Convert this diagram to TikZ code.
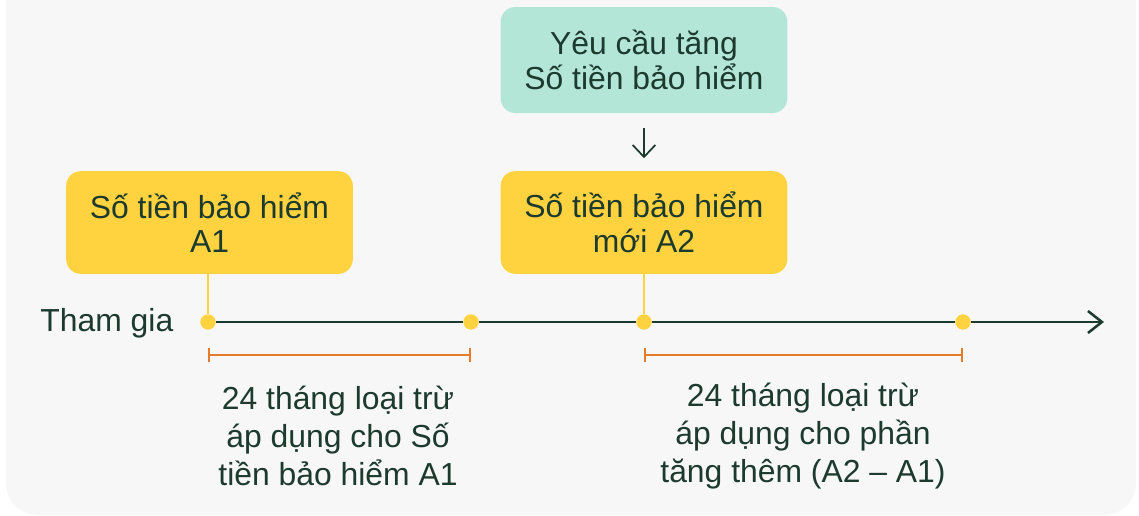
\documentclass[tikz,border=0pt]{standalone}
\usepackage{fontspec}
\setmainfont{Liberation Sans}
\usetikzlibrary{arrows.meta}
\definecolor{paper}{HTML}{F7F7F7}
\definecolor{mint}{HTML}{B4E6D7}
\definecolor{gold}{HTML}{FFD33F}
\definecolor{ink}{HTML}{1D3A2F}
\definecolor{amber}{HTML}{E87B2A}
\begin{document}
\begin{tikzpicture}[x=0.75pt,y=-0.75pt,
        every node/.style={text=ink, font=\fontsize{23.9}{26}\selectfont},
        sumbox/.style={rounded corners=11pt, align=center, minimum width=215pt, minimum height=77pt, inner sep=0pt},
        dot/.style={circle, fill=gold, minimum size=11.5pt, inner sep=0pt},
        timeline/.style={line width=1.9pt, draw=ink},
        stemline/.style={line width=1.7pt, draw=gold},
        spanbar/.style={line width=1.6pt, draw=amber, {Bar[width=11pt]}-{Bar[width=11pt]}},
        waitnote/.style={align=center, font=\fontsize{23.9}{28.5}\selectfont}]
        \clip (0,0) rectangle (1139,515);
        \fill[paper, rounded corners=24pt] (6,-40) rectangle (1136,515);
        % boxes
        \node[sumbox, fill=mint, minimum height=79.5pt] (request) at (644,60) {Yêu cầu tăng\\Số tiền bảo hiểm};
        \node[sumbox, fill=gold] (sumA1) at (209.5,222.5) {Số tiền bảo hiểm\\A1};
        \node[sumbox, fill=gold] (sumA2) at (644,222.5) {Số tiền bảo hiểm\\mới A2};
        \draw[line width=1.3pt, draw=ink, -{Straight Barb[length=9pt, width=17pt]}, shorten <=11pt, shorten >=9.5pt] (request) -- (sumA2);
        % timeline
        \node[dot] (join) at (208,322) {};
        \node[dot] (endA1) at (471,322) {};
        \node[dot] (raise) at (644,322) {};
        \node[dot] (endA2) at (963,322) {};
        \coordinate (tip) at (1104,322);
        \node[anchor=base east] (start) at (178,331) {Tham gia};
        \foreach \a/\b in {join/endA1, endA1/raise, raise/endA2} \draw[timeline] (\a) -- (\b);
        \draw[timeline, -{Straight Barb[length=10.5pt, width=16.5pt]}] (endA2) -- (tip);
        \draw[stemline] (sumA1.south -| join) -- (join);
        \draw[stemline] (sumA2) -- (raise);
        % waiting periods
        \coordinate (w1) at (208,355);
        \coordinate (w2) at (471,355);
        \coordinate (w3) at (644,355);
        \coordinate (w4) at (963,355);
        \draw[spanbar] (w1) -- (w2);
        \draw[spanbar] (w3) -- (w4);
        \node[waitnote] (waitA1) at (338,436) {24 tháng loại trừ\\áp dụng cho Số\\tiền bảo hiểm A1};
        \node[waitnote] (waitA2) at (803,436) {24 tháng loại trừ\\áp dụng cho phần\\tăng thêm (A2 – A1)};
\end{tikzpicture}
\end{document}
